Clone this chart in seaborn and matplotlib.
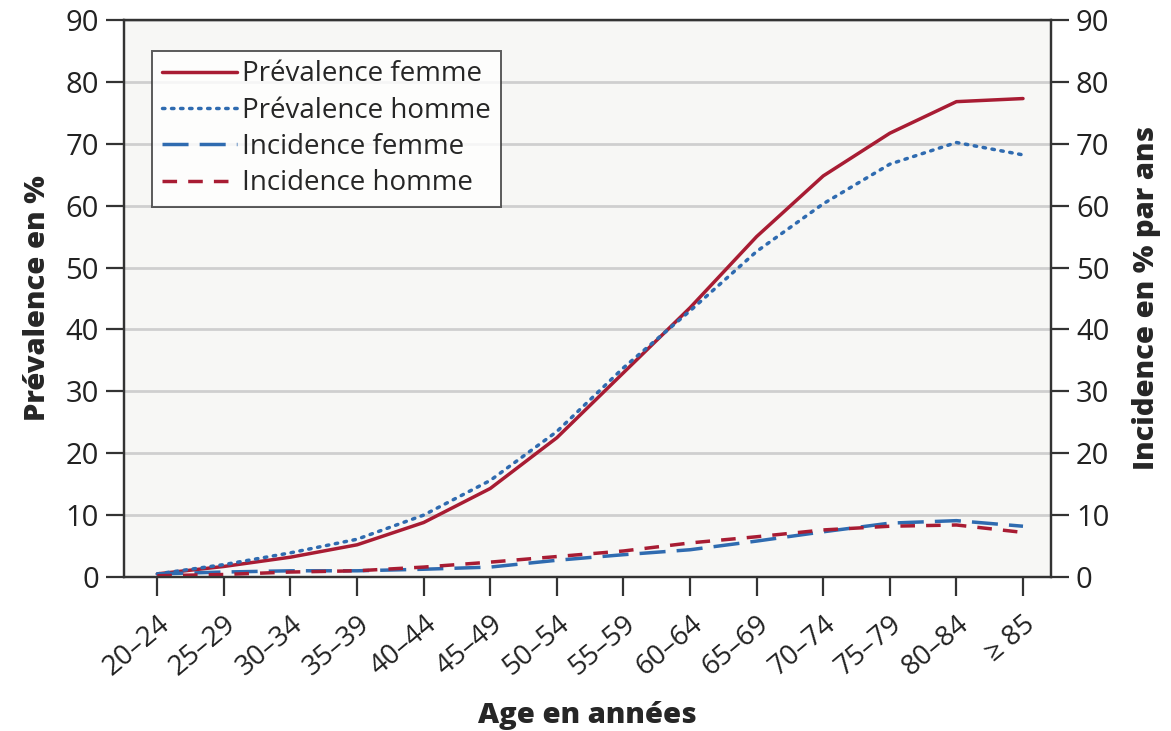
import numpy as np
import pandas as pd
import seaborn as sns
import matplotlib.pyplot as plt
from matplotlib.lines import Line2D

# data
ages = ["20–24", "25–29", "30–34", "35–39", "40–44", "45–49", "50–54",
        "55–59", "60–64", "65–69", "70–74", "75–79", "80–84", "≥ 85"]
prev_femme = [0.5, 1.7, 3.2, 5.2, 8.8, 14.3, 22.5, 33.0, 43.5, 55.0, 64.8, 71.7, 76.8, 77.3]
prev_homme = [0.5, 2.0, 3.9, 6.1, 10.0, 15.6, 23.5, 33.8, 43.0, 52.6, 60.3, 66.7, 70.2, 68.2]
inc_femme = [0.5, 0.8, 1.0, 1.0, 1.25, 1.6, 2.7, 3.6, 4.4, 5.8, 7.3, 8.7, 9.1, 8.2]
inc_homme = [0.2, 0.4, 0.8, 1.0, 1.6, 2.4, 3.3, 4.2, 5.5, 6.5, 7.6, 8.2, 8.4, 7.2]

RED = "#A81C33"
BLUE = "#2F6BB0"
AXC = "#333333"

sns.set_theme(style="white")
plt.rcParams['font.family'] = ['Open Sans', 'DejaVu Sans']

df = pd.DataFrame({"pos": np.arange(len(ages)),
                   "prev_femme": prev_femme, "prev_homme": prev_homme,
                   "inc_femme": inc_femme, "inc_homme": inc_homme})

fig = plt.figure(figsize=(11.71, 7.31), dpi=100)
ax = fig.add_axes([0.1059, 0.2107, 0.7916, 0.762])
ax.set_facecolor("#F7F7F5")
ax2 = ax.twinx()

lw = 2.5
dot = (0, (0.7, 1.9))
long_dash = (0, (7.5, 3.2))
short_dash = (0, (4.2, 3.2))

sns.lineplot(data=df, x="pos", y="prev_femme", ax=ax, color=RED, lw=lw)
sns.lineplot(data=df, x="pos", y="prev_homme", ax=ax, color=BLUE, lw=lw,
             linestyle=dot, dash_capstyle="round")
sns.lineplot(data=df, x="pos", y="inc_femme", ax=ax2, color=BLUE, lw=lw,
             linestyle=long_dash)
sns.lineplot(data=df, x="pos", y="inc_homme", ax=ax2, color=RED, lw=lw,
             linestyle=short_dash)

for a in (ax, ax2):
    a.set_ylim(0, 90)
    a.set_yticks(range(0, 91, 10))
    a.set_xlim(-0.5, 13.42)
    for s in a.spines.values():
        s.set_color(AXC)
        s.set_linewidth(1.6)
    a.tick_params(axis="y", length=13, width=1.6, color=AXC,
                  labelsize=21, labelcolor="#222222", pad=5)

ax.yaxis.grid(True, color="#CFCFCF", lw=2)
ax.set_axisbelow(True)
ax.set_xticks(df["pos"])
ax.set_xticklabels(ages, rotation=40, ha="right", rotation_mode="anchor")
ax.tick_params(axis="x", length=14, width=1.6, color=AXC, labelsize=20,
               labelcolor="#222222", pad=10, bottom=True)
ax2.tick_params(axis="y", right=True)

ax.set_xlabel("Age en années", fontsize=21, fontweight="heavy", labelpad=14)
ax.set_ylabel("Prévalence en %", fontsize=21, fontweight="heavy", labelpad=10)
ax2.set_ylabel("Incidence en % par ans", fontsize=21, fontweight="heavy", labelpad=16)

handles = [
    Line2D([], [], color=RED, lw=lw),
    Line2D([], [], color=BLUE, lw=lw, linestyle=dot, dash_capstyle="round"),
    Line2D([], [], color=BLUE, lw=lw, linestyle=long_dash),
    Line2D([], [], color=RED, lw=lw, linestyle=short_dash),
]
labels = ["Prévalence femme", "Prévalence homme", "Incidence femme", "Incidence homme"]
leg = ax2.legend(handles, labels, loc="upper left", bbox_to_anchor=(0.03, 0.945),
                 fontsize=20, frameon=True, fancybox=False, handlelength=2.7,
                 handletextpad=0.2, labelspacing=0.3, borderpad=0.35,
                 borderaxespad=0)
leg.get_frame().set_edgecolor(AXC)
leg.get_frame().set_linewidth(1.4)
leg.get_frame().set_facecolor("white")

fig.savefig("out.png", dpi=100, facecolor="white")
